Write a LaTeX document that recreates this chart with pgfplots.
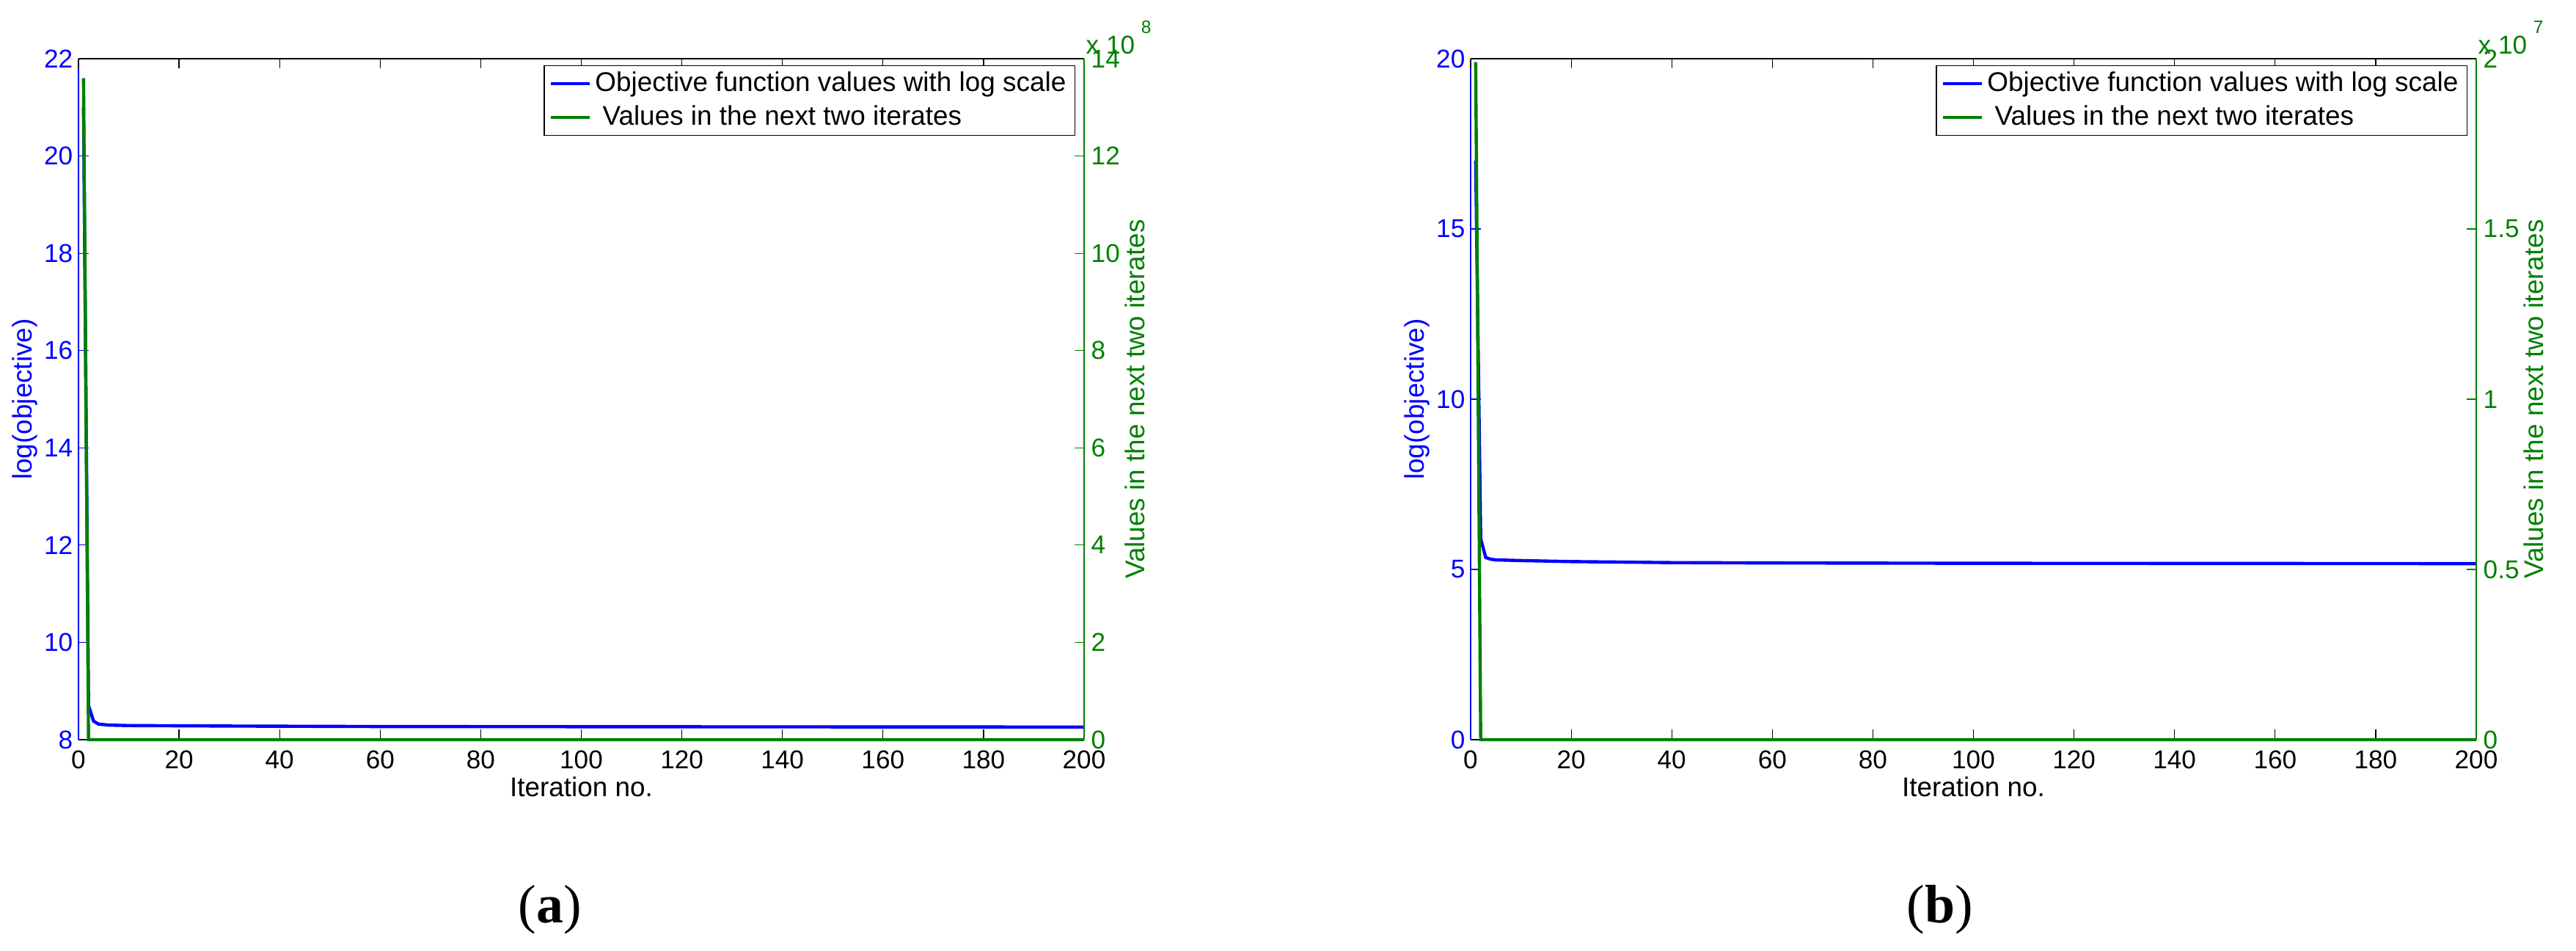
\documentclass[border=0pt]{standalone}
\usepackage{fontspec}
\setmainfont{Liberation Sans}
\newfontfamily\capfont{Liberation Serif}
\usepackage{pgfplots}
\pgfplotsset{compat=1.18}
\definecolor{mblue}{RGB}{0,0,255}
\definecolor{mgreen}{RGB}{0,128,0}

\pgfplotsset{
  base/.style={
    scale only axis, width=13.71cm, height=9.28cm,
    xmin=0, xmax=200, xtick={0,20,...,200},
    tick align=inside, major tick length=0.135cm,
    axis line style={line width=0.35pt,-},
    every tick/.append style={line width=0.35pt},
    tick label style={font=\fontsize{10}{12}\selectfont},
    /pgf/number format/assume math mode=true,
    label style={font=\fontsize{10.5}{12.5}\selectfont, inner sep=0pt},
    clip=false,
  },
  % left axis: bottom + left lines, blue y
  leftax/.style={base,
    axis x line*=bottom, axis y line*=left,
    xtick pos=bottom, ytick pos=left,
    x axis line style={black}, y axis line style={mblue},
    xtick style={black}, ytick style={mblue},
    yticklabel style={mblue, inner sep=0pt, xshift=-0.07cm},
    xticklabel style={black, inner sep=0pt, yshift=-0.14cm},
    xlabel={Iteration no.},
    xlabel style={at={(axis description cs:0.5,0)}, anchor=north, yshift=-0.50cm},
    ylabel={log(objective)},
    ylabel style={mblue, at={([xshift=-0.55cm]axis description cs:0,0.5)}, anchor=south, rotate=0},
  },
  % right axis: top + right lines, green y, holds the legend
  rightax/.style={base,
    axis x line*=top, axis y line*=right,
    xtick pos=top, ytick pos=right, yticklabel pos=right,
    xticklabels={},
    x axis line style={black}, y axis line style={mgreen},
    xtick style={black}, ytick style={mgreen},
    yticklabel style={mgreen, anchor=west, inner sep=0pt, xshift=0.09cm},
    scaled y ticks=false,
    ylabel={Values in the next two iterates},
    ylabel style={mgreen, anchor=north, rotate=0},
    legend style={at={(rel axis cs:1,1)}, anchor=north east,
      xshift=-0.12cm, yshift=-0.09cm, draw=black, line width=0.35pt, fill=white,
      font=\fontsize{10.5}{12}\selectfont, inner xsep=2pt, inner ysep=0.5pt, row sep=0pt,
      nodes={inner sep=1.4pt, text height=8pt, text depth=2.2pt}},
    legend cell align=left,
    legend image code/.code={\draw[#1, line width=1.25pt] (0cm,0cm) -- (0.53cm,0cm);},
    legend entries={Objective function values with log scale, {\ Values in the next two iterates}},
  },
}

\begin{document}
\begin{tikzpicture}
\useasboundingbox (0,0) rectangle (35.12cm,12.96cm);

% ---------- (a) ----------
\begin{axis}[leftax, at={(1.07cm,2.88cm)}, anchor=south west,
  ymin=8, ymax=22, ytick={8,10,12,14,16,18,20,22}]
\addplot[mblue, line width=1.25pt] coordinates {
  (1,21.0) (2,8.7) (3,8.38) (4,8.32) (6,8.30) (10,8.29) (30,8.28)
  (60,8.27) (120,8.265) (200,8.26)};
\end{axis}
\begin{axis}[rightax, at={(1.07cm,2.88cm)}, anchor=south west,
  ylabel style={at={([xshift=0.55cm]axis description cs:1,0.5)}},
  ymin=0, ymax=14e8,
  ytick={0,2e8,4e8,6e8,8e8,10e8,12e8,14e8},
  yticklabels={0,2,4,6,8,10,12,14}]
\addlegendimage{mblue, line width=1.25pt}
\addplot[mgreen, line width=1.25pt] coordinates {
  (1,13.6e8) (2,0) (200,0)};
\node[anchor=base west, mgreen, inner sep=0pt, font=\fontsize{10}{12}\selectfont]
  at ([xshift=0.02cm,yshift=0.06cm]rel axis cs:1,1)
  {x 10\hspace{2.5pt}\raisebox{8pt}{\fontsize{7}{8}\selectfont 8}};
\end{axis}

% ---------- (b) ----------
\begin{axis}[leftax, at={(20.05cm,2.88cm)}, anchor=south west,
  ymin=0, ymax=20, ytick={0,5,10,15,20}]
\addplot[mblue, line width=1.25pt] coordinates {
  (1,17.0) (2,5.9) (3,5.35) (4,5.30) (5,5.28) (10,5.26) (20,5.23)
  (40,5.20) (60,5.19) (100,5.18) (200,5.17)};
\end{axis}
\begin{axis}[rightax, at={(20.05cm,2.88cm)}, anchor=south west,
  ylabel style={at={([xshift=0.64cm]axis description cs:1,0.5)}},
  ymin=0, ymax=2e7,
  ytick={0,5e6,1e7,1.5e7,2e7},
  yticklabels={0,0.5,1,1.5,2}]
\addlegendimage{mblue, line width=1.25pt}
\addplot[mgreen, line width=1.25pt] coordinates {
  (1,1.99e7) (2,0) (200,0)};
\node[anchor=base west, mgreen, inner sep=0pt, font=\fontsize{10}{12}\selectfont]
  at ([xshift=0.02cm,yshift=0.06cm]rel axis cs:1,1)
  {x 10\hspace{2.5pt}\raisebox{8pt}{\fontsize{7}{8}\selectfont 7}};
\end{axis}

% captions
\node[anchor=base, inner sep=0pt] at (7.50cm,0.38cm)
  {\capfont\fontsize{21}{24}\selectfont (\textbf{a})};
\node[anchor=base, inner sep=0pt] at (26.45cm,0.38cm)
  {\capfont\fontsize{21}{24}\selectfont (\textbf{b})};
\end{tikzpicture}
\end{document}
